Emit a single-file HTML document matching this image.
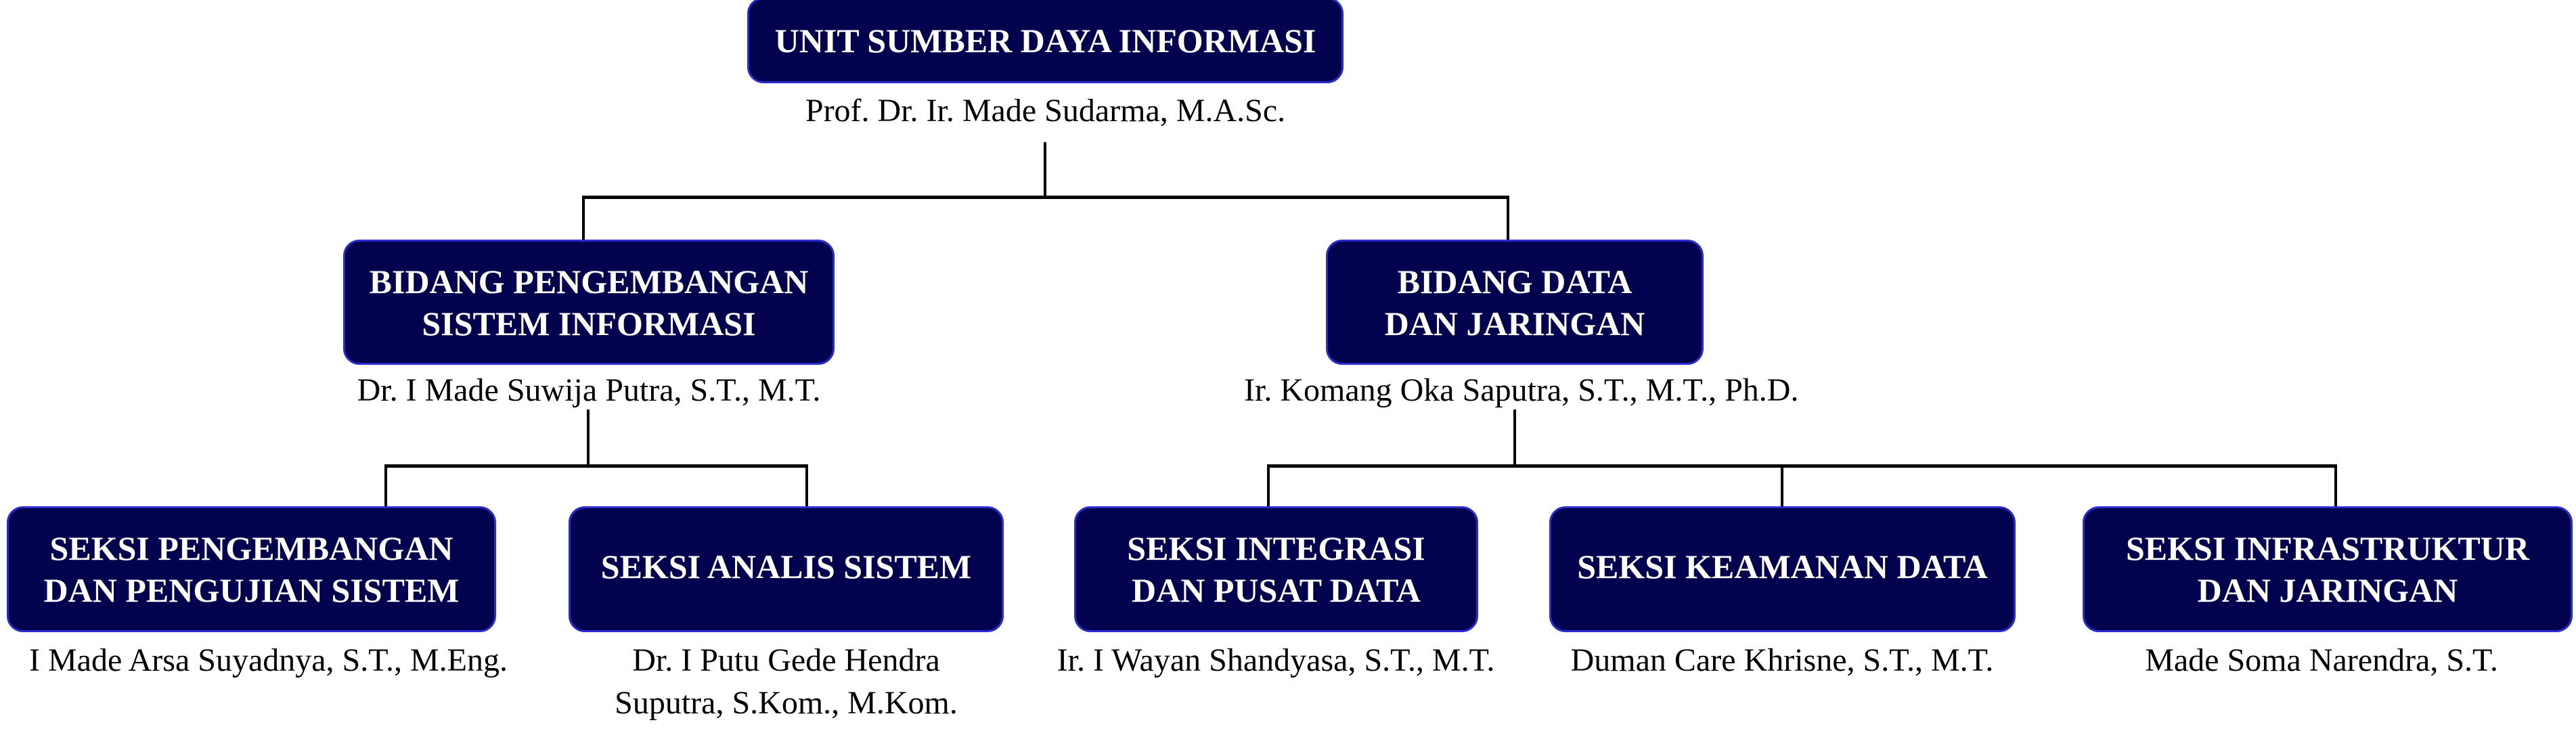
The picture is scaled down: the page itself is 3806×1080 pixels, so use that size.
<!DOCTYPE html>
<html><head><meta charset="utf-8"><style>
html,body{margin:0;padding:0;background:#fff;}
body{width:3806px;height:1080px;position:relative;overflow:hidden;font-family:"Liberation Serif",serif;}
.b{position:absolute;background:#02024f;border:3px solid #2b2bd0;border-radius:24px;box-sizing:border-box;color:#fff;font-weight:bold;font-size:50px;line-height:62px;display:flex;align-items:center;justify-content:center;text-align:center;white-space:nowrap;}
.n{position:absolute;font-size:48px;line-height:63px;color:#000;text-align:center;white-space:nowrap;}
.l{position:absolute;background:#000;}
</style></head><body>
<div class="b" style="left:1104px;top:-4px;width:881px;height:127px;">UNIT SUMBER DAYA INFORMASI</div>
<div class="n" style="left:1104px;width:881px;top:132px;">Prof. Dr. Ir. Made Sudarma, M.A.Sc.</div>

<div class="l" style="left:1542px;top:210px;width:4px;height:82px;"></div>
<div class="l" style="left:860px;top:289px;width:1370px;height:5px;"></div>
<div class="l" style="left:860px;top:289px;width:4px;height:66px;"></div>
<div class="l" style="left:2226px;top:289px;width:4px;height:66px;"></div>

<div class="b" style="left:507px;top:354px;width:726px;height:185px;">BIDANG PENGEMBANGAN<br>SISTEM INFORMASI</div>
<div class="n" style="left:470px;width:800px;top:545px;">Dr. I Made Suwija Putra, S.T., M.T.</div>
<div class="b" style="left:1959px;top:354px;width:558px;height:185px;">BIDANG DATA<br>DAN JARINGAN</div>
<div class="n" style="left:1838px;width:800px;top:545px;">Ir. Komang Oka Saputra, S.T., M.T., Ph.D.</div>

<div class="l" style="left:867px;top:605px;width:4px;height:84px;"></div>
<div class="l" style="left:568px;top:686px;width:626px;height:5px;"></div>
<div class="l" style="left:568px;top:686px;width:4px;height:63px;"></div>
<div class="l" style="left:1190px;top:686px;width:4px;height:63px;"></div>

<div class="l" style="left:2236px;top:605px;width:4px;height:84px;"></div>
<div class="l" style="left:1872px;top:686px;width:1581px;height:5px;"></div>
<div class="l" style="left:1872px;top:686px;width:4px;height:63px;"></div>
<div class="l" style="left:2631px;top:686px;width:4px;height:63px;"></div>
<div class="l" style="left:3449px;top:686px;width:4px;height:63px;"></div>

<div class="b" style="left:10px;top:748px;width:723px;height:186px;">SEKSI PENGEMBANGAN<br>DAN PENGUJIAN SISTEM</div>
<div class="b" style="left:840px;top:748px;width:643px;height:186px;padding-bottom:8px;">SEKSI ANALIS SISTEM</div>
<div class="b" style="left:1587px;top:748px;width:597px;height:186px;">SEKSI INTEGRASI<br>DAN PUSAT DATA</div>
<div class="b" style="left:2289px;top:748px;width:689px;height:186px;padding-bottom:8px;">SEKSI KEAMANAN DATA</div>
<div class="b" style="left:3077px;top:748px;width:724px;height:186px;">SEKSI INFRASTRUKTUR<br>DAN JARINGAN</div>

<div class="n" style="left:0px;width:793px;top:944px;">I Made Arsa Suyadnya, S.T., M.Eng.</div>
<div class="n" style="left:840px;width:643px;top:944px;">Dr. I Putu Gede Hendra<br>Suputra, S.Kom., M.Kom.</div>
<div class="n" style="left:1535px;width:700px;top:944px;">Ir. I Wayan Shandyasa, S.T., M.T.</div>
<div class="n" style="left:2283px;width:700px;top:944px;">Duman Care Khrisne, S.T., M.T.</div>
<div class="n" style="left:3080px;width:700px;top:944px;">Made Soma Narendra, S.T.</div>
</body></html>
